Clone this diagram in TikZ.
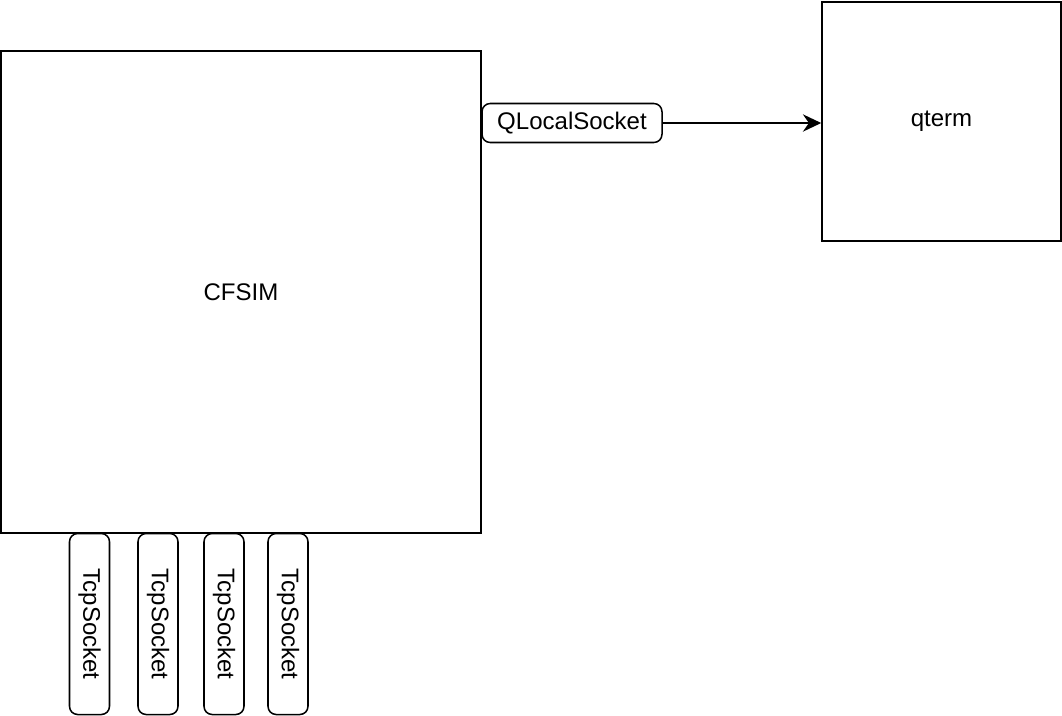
\documentclass[tikz,border=0pt]{standalone}
\usepackage{fontspec}
\setmainfont{Liberation Sans}
\usetikzlibrary{positioning,arrows.meta}

\begin{document}
\begin{tikzpicture}[
  x=0.03cm, y=-0.03cm,
  font=\fontsize{20.5}{24}\selectfont,
  >={Stealth[length=5.5mm, width=5.2mm, inset=1.8mm]},
  box/.style={draw, line width=1.3pt, inner sep=0pt, align=center},
  sock/.style={box, rounded corners=7pt, minimum height=1.2cm},
  arr/.style={->, line width=1.3pt}
]
\useasboundingbox (0,0) rectangle (1062,715);

% ---------------- main blocks ----------------
\node[box, minimum width=14.4cm, minimum height=14.46cm] (cfsim) at (241,292) {CFSIM};
\node[box, minimum width=7.17cm, minimum height=7.17cm] (qterm) at (941.5,121.5) {qterm};

% ---------------- sockets ----------------
\node[sock, minimum width=5.4cm, minimum height=1.17cm] (lsock) at (572,123) {QLocalSocket};
\node[sock, minimum width=5.43cm, rotate=-90] (tcp1) at (89.5,624) {TcpSocket};
\node[sock, minimum width=5.43cm, rotate=-90] (tcp2) at (158,624) {TcpSocket};
\node[sock, minimum width=5.43cm, rotate=-90] (tcp3) at (224,624) {TcpSocket};
\node[sock, minimum width=5.43cm, rotate=-90] (tcp4) at (288,624) {TcpSocket};

\draw[arr] (lsock) -- (qterm.west |- lsock);
\end{tikzpicture}
\end{document}
